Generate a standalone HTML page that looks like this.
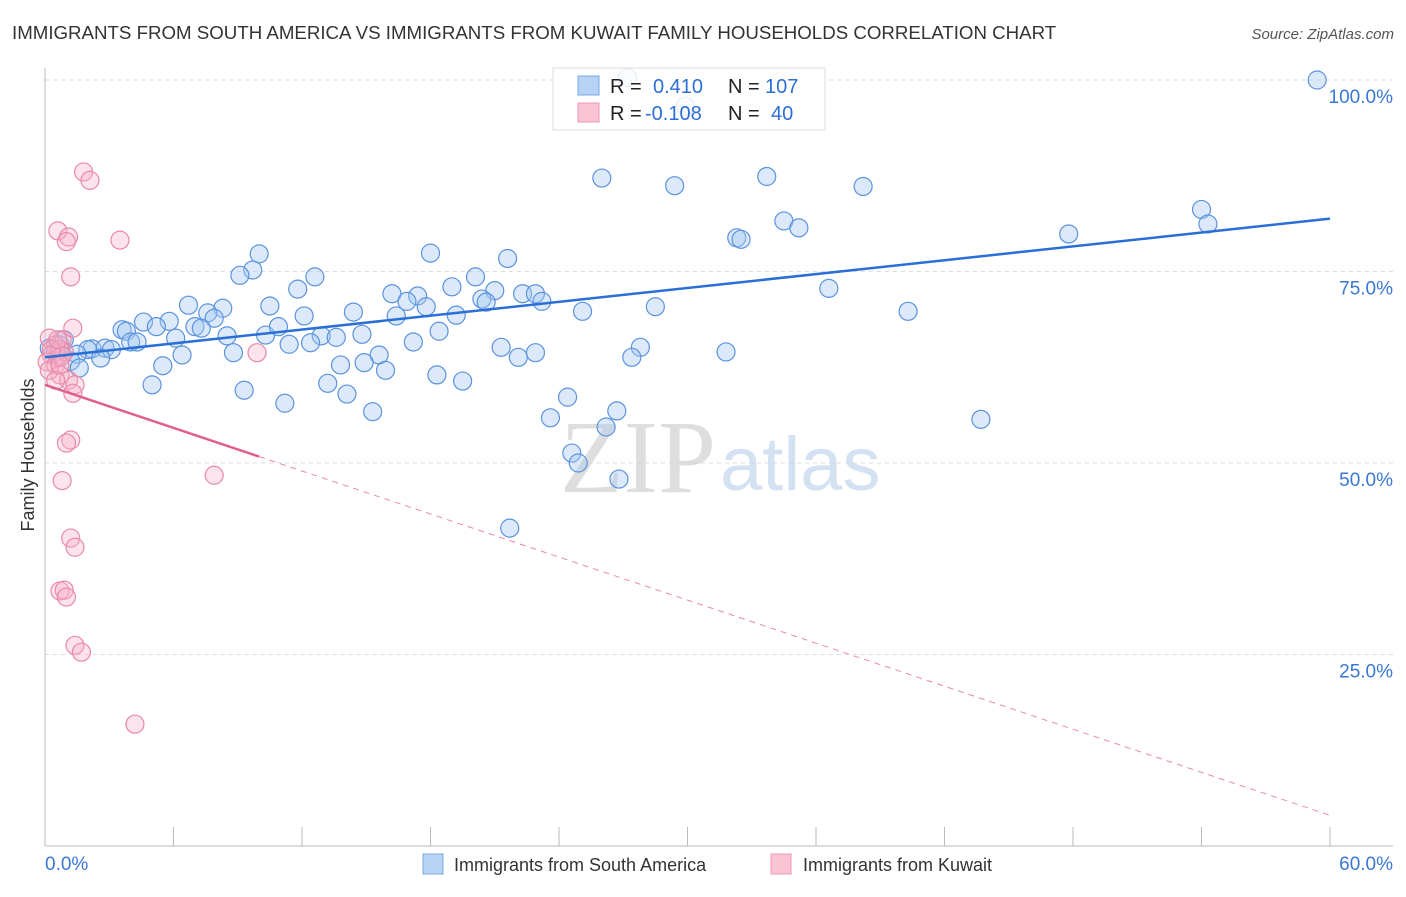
<!DOCTYPE html>
<html><head><meta charset="utf-8"><style>
body{margin:0;background:#fff;font-family:"Liberation Sans",sans-serif;}
svg text{font-family:"Liberation Sans",sans-serif;}
</style></head><body>
<svg id="chart" width="1406" height="892" xmlns="http://www.w3.org/2000/svg">
<text x="12" y="39" font-size="18.7" fill="#333">IMMIGRANTS FROM SOUTH AMERICA VS IMMIGRANTS FROM KUWAIT FAMILY HOUSEHOLDS CORRELATION CHART</text>
<text x="1394" y="39" font-size="15" fill="#555" font-style="italic" text-anchor="end">Source: ZipAtlas.com</text>
<text transform="translate(34,455) rotate(-90)" font-size="18" fill="#333" text-anchor="middle">Family Households</text>
<g id="grid"></g>
<text x="716" y="492" font-size="104" fill="#d4d4d4" text-anchor="end" style="font-family:'Liberation Serif',serif" opacity="0.75">ZIP</text>
<text x="720" y="490" font-size="76" fill="#c6d8ef" opacity="0.75">atlas</text>
<g id="marks"></g>
<g>
<rect x="553" y="68" width="272" height="62" fill="#fff" fill-opacity="0.85" stroke="#ddd"/>
<rect x="578" y="76" width="21" height="19" fill="#b8d2f4" stroke="#7aa8e6"/>
<text x="610" y="93" font-size="20" fill="#222">R =</text>
<text x="653" y="93" font-size="20" fill="#2b6fd6">0.410</text>
<text x="728" y="93" font-size="20" fill="#222">N =</text>
<text x="765" y="93" font-size="20" fill="#2b6fd6">107</text>
<rect x="578" y="103" width="21" height="19" fill="#fac4d4" stroke="#ee9ab5"/>
<text x="610" y="120" font-size="20" fill="#222">R =</text>
<text x="645" y="120" font-size="20" fill="#2b6fd6">-0.108</text>
<text x="728" y="120" font-size="20" fill="#222">N =</text>
<text x="771" y="120" font-size="20" fill="#2b6fd6">40</text>
</g>
<g>
<rect x="423" y="854" width="20" height="20" fill="#b8d2f4" stroke="#7aa8e6"/>
<text x="454" y="871" font-size="18" fill="#333">Immigrants from South America</text>
<rect x="771" y="854" width="20" height="20" fill="#fac4d4" stroke="#ee9ab5"/>
<text x="803" y="871" font-size="18" fill="#333">Immigrants from Kuwait</text>
</g>
</svg>
<script>
const yTicks=[25,50,75,100];
const yTickLabels=["25.0%","50.0%","75.0%","100.0%"];
const xTickLabels=["0.0%","60.0%"];
const blueX=[59.4,27.2,26.0,29.4,33.7,38.2,54.0,54.3,34.5,35.2,32.3,32.5,47.8,18.0,21.6,10.0,9.7,9.1,12.6,20.1,11.8,16.2,17.4,19.0,21.0,22.3,22.9,20.4,20.6,23.2,16.9,6.7,10.5,8.3,7.6,7.9,12.1,14.4,16.4,17.8,19.2,25.1,28.5,36.6,40.3,4.6,5.8,5.2,7.0,7.3,3.6,3.8,8.5,10.3,10.9,12.9,13.6,14.8,18.4,6.1,4.0,4.3,11.4,12.4,17.2,21.3,22.9,27.8,27.4,31.8,2.2,2.8,3.1,2.0,1.5,2.6,6.4,8.8,15.6,1.2,1.6,5.5,13.8,14.9,15.9,19.5,18.3,13.2,22.1,5.0,9.3,14.1,11.2,15.3,24.4,26.7,23.6,26.2,43.7,24.6,24.9,26.8,21.7,0.7,0.9,0.5,0.2,29.9];
const blueY=[100,100.3,87.2,86.2,87.4,86.1,83.1,81.2,81.6,80.7,79.4,79.2,79.9,77.4,76.7,77.3,75.2,74.5,74.3,74.3,72.7,72.1,71.8,73.0,72.5,72.1,72.1,71.4,71.0,71.1,71.1,70.6,70.5,70.2,69.6,68.9,69.2,69.7,69.2,70.4,69.3,69.8,70.4,72.8,69.8,68.4,68.5,67.8,67.8,67.6,67.4,67.2,66.6,66.7,67.8,66.6,66.4,66.8,67.2,66.3,65.8,65.8,65.5,65.7,65.8,65.1,64.4,65.1,63.8,64.5,64.9,65.0,64.8,64.8,64.2,63.7,64.1,64.4,64.1,63.3,62.4,62.7,62.8,63.1,62.1,60.7,61.5,60.4,63.8,60.2,59.5,59.0,57.8,56.7,58.6,56.8,55.9,54.7,55.7,51.3,50.0,47.9,41.5,65.4,66.1,64.5,65.0,96.6];
const pinkX=[1.8,2.1,0.6,1.1,1.0,3.5,1.2,0.8,1.3,0.2,0.5,0.3,0.6,0.1,0.9,0.5,0.7,1.1,1.4,1.3,9.9,1.2,1.0,0.8,1.2,1.4,0.7,0.9,1.0,1.4,1.7,4.2,7.9,0.7,0.8,0.2,0.5,0.7,0.3,0.6];
const pinkY=[88.0,86.9,80.3,79.5,78.9,79.1,74.3,66.1,67.6,66.3,65.4,64.1,63.7,63.2,64.5,62.8,61.5,60.8,60.2,59.1,64.4,53.0,52.6,47.7,40.2,39.0,33.3,33.4,32.5,26.2,25.3,15.9,48.4,64.8,64.0,62.1,60.8,62.8,64.8,66.1];
const blueTrend=[63.8,81.9];
const pinkTrend=[60.2,4.0];
const NS="http://www.w3.org/2000/svg";
const X0=45,X1=1330,Y0=846,Y100=80;
const sx=v=>X0+v*(X1-X0)/60, sy=v=>Y0-v*(Y0-Y100)/100;
function mk(tag,attrs,parent){const e=document.createElementNS(NS,tag);for(const k in attrs)e.setAttribute(k,attrs[k]);parent.appendChild(e);return e;}
const grid=document.getElementById('grid'), marks=document.getElementById('marks');
yTicks.forEach((t,i)=>{
 const l=mk('line',{x1:X0,x2:1393,y1:sy(t),y2:sy(t),stroke:'#ddd','stroke-dasharray':'4,4'},grid);
 
 
 const tx=mk('text',{x:1393,y:sy(t)+23,'font-size':19,fill:'#3a78d4','text-anchor':'end'},grid);
 tx.textContent=yTickLabels[i];
 
 
});
let ax=mk('line',{x1:X0,x2:X0,y1:68,y2:Y0,stroke:'#bbb'},grid);


ax=mk('line',{x1:X0,x2:1393,y1:Y0,y2:Y0,stroke:'#bbb'},grid);


for(let i=1;i<=10;i++){const x=sx(i*6);const t=mk('line',{x1:x,x2:x,y1:Y0-19,y2:Y0,stroke:'#bbb'},grid);
 
 }
[[0,'start',X0],[60,'end',1393]].forEach((d,i)=>{const t=mk('text',{x:d[2],y:870,'font-size':19,fill:'#3a78d4','text-anchor':d[1]},grid);t.textContent=xTickLabels[i];
 
 });
blueX.forEach((v,i)=>{const c=mk('circle',{cx:sx(v),cy:sy(blueY[i]),r:9,fill:'rgba(165,200,242,0.4)',stroke:'#5b93dd','stroke-width':1.2},marks);
 
 });
pinkX.forEach((v,i)=>{const c=mk('circle',{cx:sx(v),cy:sy(pinkY[i]),r:9,fill:'rgba(246,176,200,0.35)',stroke:'#e88aa8','stroke-width':1.2},marks);
 
 });
let tl=mk('line',{x1:sx(0),y1:sy(blueTrend[0]),x2:sx(60),y2:sy(blueTrend[1]),stroke:'#2a6fd6','stroke-width':2.5},marks);


const pm=pinkTrend[0]+(pinkTrend[1]-pinkTrend[0])*10/60;
tl=mk('line',{x1:sx(0),y1:sy(pinkTrend[0]),x2:sx(10),y2:sy(pm),stroke:'#e0608a','stroke-width':2.5},marks);


tl=mk('line',{x1:sx(10),y1:sy(pm),x2:sx(60),y2:sy(pinkTrend[1]),stroke:'#e88aa8','stroke-width':1,'stroke-dasharray':'6,5'},marks);


</script>
</body></html>
